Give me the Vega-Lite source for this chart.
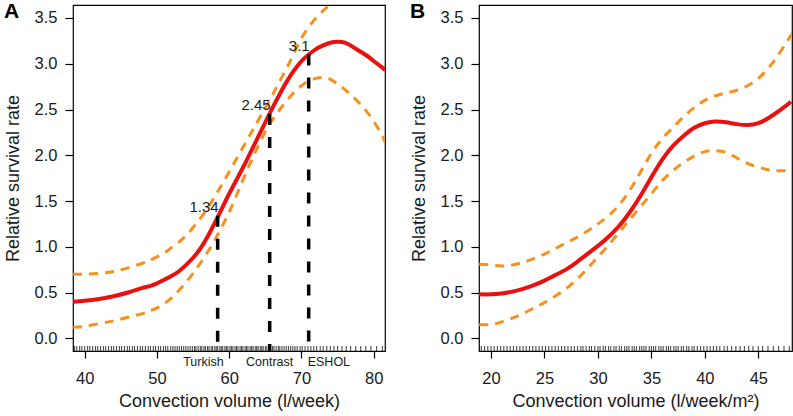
{
  "$schema": "https://vega.github.io/schema/vega-lite/v6.json",
  "padding": {"left": 3, "top": 0, "right": 3, "bottom": 0},
  "spacing": 23,
  "config": {
    "font": "Liberation Sans",
    "view": {"stroke": "black", "strokeWidth": 1.2},
    "axis": {"grid": false, "domain": false, "tickColor": "black", "tickWidth": 1.2, "labelFontSize": 16.5, "labelColor": "#1a1a1a", "titleFontSize": 18, "titleFontWeight": "normal", "titleColor": "#1a1a1a"},
    "axisX": {"tickSize": 7, "labelPadding": 12, "titlePadding": 6},
    "axisY": {"tickSize": 8, "labelPadding": 8, "titlePadding": 12},
    "title": {"fontSize": 21, "fontWeight": "bold", "anchor": "start", "frame": "bounds", "offset": -17, "baseline": "alphabetic", "color": "black"}
  },
  "datasets": {
    "curveA": [
      {"x": 38.4, "fit": 0.40, "lo": 0.12, "hi": 0.70},
      {"x": 40, "fit": 0.41, "lo": 0.13, "hi": 0.70},
      {"x": 42, "fit": 0.43, "lo": 0.16, "hi": 0.71},
      {"x": 44, "fit": 0.46, "lo": 0.19, "hi": 0.73},
      {"x": 46, "fit": 0.50, "lo": 0.23, "hi": 0.77},
      {"x": 48, "fit": 0.55, "lo": 0.27, "hi": 0.82},
      {"x": 49, "fit": 0.57, "lo": 0.30, "hi": 0.85},
      {"x": 50, "fit": 0.60, "lo": 0.33, "hi": 0.89},
      {"x": 51, "fit": 0.64, "lo": 0.38, "hi": 0.93},
      {"x": 52, "fit": 0.68, "lo": 0.44, "hi": 0.99},
      {"x": 53, "fit": 0.73, "lo": 0.52, "hi": 1.05},
      {"x": 54, "fit": 0.80, "lo": 0.61, "hi": 1.12},
      {"x": 55, "fit": 0.88, "lo": 0.71, "hi": 1.21},
      {"x": 56, "fit": 0.98, "lo": 0.82, "hi": 1.31},
      {"x": 57, "fit": 1.11, "lo": 0.94, "hi": 1.42},
      {"x": 58, "fit": 1.26, "lo": 1.07, "hi": 1.55},
      {"x": 59, "fit": 1.42, "lo": 1.22, "hi": 1.68},
      {"x": 60, "fit": 1.58, "lo": 1.38, "hi": 1.82},
      {"x": 61, "fit": 1.73, "lo": 1.56, "hi": 1.96},
      {"x": 62, "fit": 1.88, "lo": 1.75, "hi": 2.10},
      {"x": 63, "fit": 2.04, "lo": 1.93, "hi": 2.24},
      {"x": 64, "fit": 2.20, "lo": 2.10, "hi": 2.38},
      {"x": 65, "fit": 2.36, "lo": 2.26, "hi": 2.52},
      {"x": 66, "fit": 2.52, "lo": 2.39, "hi": 2.66},
      {"x": 67, "fit": 2.67, "lo": 2.50, "hi": 2.81},
      {"x": 68, "fit": 2.81, "lo": 2.60, "hi": 2.96},
      {"x": 69, "fit": 2.93, "lo": 2.69, "hi": 3.12},
      {"x": 70, "fit": 3.03, "lo": 2.76, "hi": 3.28},
      {"x": 71, "fit": 3.10, "lo": 2.81, "hi": 3.40},
      {"x": 72, "fit": 3.16, "lo": 2.84, "hi": 3.50},
      {"x": 73, "fit": 3.20, "lo": 2.85, "hi": 3.58},
      {"x": 74, "fit": 3.23, "lo": 2.83, "hi": 3.65},
      {"x": 75, "fit": 3.24, "lo": 2.78, "hi": 3.72},
      {"x": 76, "fit": 3.23, "lo": 2.72, "hi": 3.78},
      {"x": 77, "fit": 3.19, "lo": 2.65, "hi": 3.83},
      {"x": 78, "fit": 3.14, "lo": 2.57, "hi": 3.87},
      {"x": 79, "fit": 3.09, "lo": 2.48, "hi": 3.90},
      {"x": 80, "fit": 3.03, "lo": 2.37, "hi": 3.93},
      {"x": 81, "fit": 2.97, "lo": 2.24, "hi": 3.95},
      {"x": 81.6, "fit": 2.93, "lo": 2.14, "hi": 3.96}
    ],
    "curveB": [
      {"x": 18.9, "fit": 0.48, "lo": 0.15, "hi": 0.81},
      {"x": 20, "fit": 0.48, "lo": 0.15, "hi": 0.80},
      {"x": 21, "fit": 0.49, "lo": 0.18, "hi": 0.79},
      {"x": 22, "fit": 0.51, "lo": 0.22, "hi": 0.80},
      {"x": 23, "fit": 0.54, "lo": 0.27, "hi": 0.83},
      {"x": 24, "fit": 0.58, "lo": 0.33, "hi": 0.87},
      {"x": 25, "fit": 0.63, "lo": 0.39, "hi": 0.92},
      {"x": 26, "fit": 0.69, "lo": 0.46, "hi": 0.98},
      {"x": 27, "fit": 0.75, "lo": 0.54, "hi": 1.04},
      {"x": 28, "fit": 0.83, "lo": 0.64, "hi": 1.10},
      {"x": 29, "fit": 0.92, "lo": 0.76, "hi": 1.17},
      {"x": 30, "fit": 1.01, "lo": 0.89, "hi": 1.25},
      {"x": 31, "fit": 1.11, "lo": 1.02, "hi": 1.34},
      {"x": 32, "fit": 1.23, "lo": 1.16, "hi": 1.46},
      {"x": 33, "fit": 1.38, "lo": 1.30, "hi": 1.62},
      {"x": 34, "fit": 1.56, "lo": 1.44, "hi": 1.82},
      {"x": 35, "fit": 1.76, "lo": 1.58, "hi": 2.02},
      {"x": 36, "fit": 1.95, "lo": 1.72, "hi": 2.18},
      {"x": 37, "fit": 2.10, "lo": 1.83, "hi": 2.30},
      {"x": 38, "fit": 2.21, "lo": 1.92, "hi": 2.42},
      {"x": 39, "fit": 2.30, "lo": 1.99, "hi": 2.52},
      {"x": 40, "fit": 2.35, "lo": 2.04, "hi": 2.60},
      {"x": 41, "fit": 2.37, "lo": 2.05, "hi": 2.65},
      {"x": 42, "fit": 2.36, "lo": 2.03, "hi": 2.68},
      {"x": 43, "fit": 2.34, "lo": 1.97, "hi": 2.71},
      {"x": 44, "fit": 2.33, "lo": 1.91, "hi": 2.76},
      {"x": 45, "fit": 2.35, "lo": 1.87, "hi": 2.84},
      {"x": 46, "fit": 2.41, "lo": 1.84, "hi": 2.96},
      {"x": 47, "fit": 2.49, "lo": 1.83, "hi": 3.12},
      {"x": 48, "fit": 2.58, "lo": 1.83, "hi": 3.30},
      {"x": 48.15, "fit": 2.60, "lo": 1.83, "hi": 3.33}
    ],
    "marksA": [
      {"x": 58.4, "y": 1.34, "name": "Turkish"},
      {"x": 65.6, "y": 2.45, "name": "Contrast"},
      {"x": 71.0, "y": 3.1, "name": "ESHOL"}
    ],
    "rugA": [
      {"x": 38.6}, {"x": 38.9}, {"x": 39.3}, {"x": 39.6}, {"x": 40.0}, {"x": 40.4}, {"x": 40.7}, {"x": 41.1}, {"x": 41.5}, {"x": 41.8},
      {"x": 42.2}, {"x": 42.6}, {"x": 42.9}, {"x": 43.3}, {"x": 43.7}, {"x": 44.0}, {"x": 44.4}, {"x": 44.8}, {"x": 45.1}, {"x": 45.5},
      {"x": 45.9}, {"x": 46.2}, {"x": 46.6}, {"x": 46.9}, {"x": 47.3}, {"x": 47.7}, {"x": 48.0}, {"x": 48.4}, {"x": 48.8}, {"x": 49.1},
      {"x": 49.5}, {"x": 49.8}, {"x": 50.2}, {"x": 50.5}, {"x": 50.9}, {"x": 51.2}, {"x": 51.5}, {"x": 51.9}, {"x": 52.2}, {"x": 52.5},
      {"x": 52.8}, {"x": 53.1}, {"x": 53.4}, {"x": 53.7}, {"x": 54.0}, {"x": 54.3}, {"x": 54.6}, {"x": 54.9}, {"x": 55.2}, {"x": 55.4},
      {"x": 55.7}, {"x": 56.0}, {"x": 56.2}, {"x": 56.5}, {"x": 56.7}, {"x": 57.0}, {"x": 57.2}, {"x": 57.5}, {"x": 57.7}, {"x": 58.0},
      {"x": 58.2}, {"x": 58.4}, {"x": 58.7}, {"x": 58.9}, {"x": 59.1}, {"x": 59.4}, {"x": 59.6}, {"x": 59.8}, {"x": 60.1}, {"x": 60.3},
      {"x": 60.5}, {"x": 60.8}, {"x": 61.0}, {"x": 61.2}, {"x": 61.5}, {"x": 61.7}, {"x": 61.9}, {"x": 62.2}, {"x": 62.4}, {"x": 62.6},
      {"x": 62.9}, {"x": 63.1}, {"x": 63.3}, {"x": 63.6}, {"x": 63.8}, {"x": 64.0}, {"x": 64.3}, {"x": 64.5}, {"x": 64.7}, {"x": 65.0},
      {"x": 65.2}, {"x": 65.5}, {"x": 65.7}, {"x": 66.0}, {"x": 66.2}, {"x": 66.5}, {"x": 66.8}, {"x": 67.0}, {"x": 67.3}, {"x": 67.6},
      {"x": 67.9}, {"x": 68.2}, {"x": 68.5}, {"x": 68.8}, {"x": 69.1}, {"x": 69.4}, {"x": 69.8}, {"x": 70.1}, {"x": 70.5}, {"x": 70.9},
      {"x": 71.3}, {"x": 71.7}, {"x": 72.1}, {"x": 72.6}, {"x": 73.0}, {"x": 73.5}, {"x": 74.0}, {"x": 74.5}, {"x": 75.0}, {"x": 75.6},
      {"x": 76.2}, {"x": 76.8}, {"x": 77.5}, {"x": 78.2}, {"x": 78.9}, {"x": 79.6}, {"x": 80.4}, {"x": 81.2}
    ],
    "rugB": [
      {"x": 19.1}, {"x": 19.4}, {"x": 19.7}, {"x": 20.0}, {"x": 20.3}, {"x": 20.6}, {"x": 20.9}, {"x": 21.2}, {"x": 21.5}, {"x": 21.8},
      {"x": 22.1}, {"x": 22.4}, {"x": 22.7}, {"x": 23.0}, {"x": 23.3}, {"x": 23.6}, {"x": 23.9}, {"x": 24.2}, {"x": 24.5}, {"x": 24.8},
      {"x": 25.1}, {"x": 25.4}, {"x": 25.7}, {"x": 26.0}, {"x": 26.3}, {"x": 26.6}, {"x": 26.9}, {"x": 27.2}, {"x": 27.5}, {"x": 27.8},
      {"x": 28.1}, {"x": 28.4}, {"x": 28.6}, {"x": 28.9}, {"x": 29.2}, {"x": 29.4}, {"x": 29.7}, {"x": 30.0}, {"x": 30.2}, {"x": 30.5},
      {"x": 30.7}, {"x": 31.0}, {"x": 31.2}, {"x": 31.5}, {"x": 31.7}, {"x": 32.0}, {"x": 32.2}, {"x": 32.5}, {"x": 32.7}, {"x": 32.9},
      {"x": 33.2}, {"x": 33.4}, {"x": 33.6}, {"x": 33.9}, {"x": 34.1}, {"x": 34.3}, {"x": 34.5}, {"x": 34.8}, {"x": 35.0}, {"x": 35.2},
      {"x": 35.4}, {"x": 35.7}, {"x": 35.9}, {"x": 36.1}, {"x": 36.4}, {"x": 36.6}, {"x": 36.8}, {"x": 37.1}, {"x": 37.3}, {"x": 37.5},
      {"x": 37.8}, {"x": 38.0}, {"x": 38.3}, {"x": 38.5}, {"x": 38.8}, {"x": 39.0}, {"x": 39.3}, {"x": 39.6}, {"x": 39.9}, {"x": 40.2},
      {"x": 40.5}, {"x": 40.8}, {"x": 41.1}, {"x": 41.4}, {"x": 41.8}, {"x": 42.1}, {"x": 42.5}, {"x": 42.9}, {"x": 43.3}, {"x": 43.7},
      {"x": 44.1}, {"x": 44.5}, {"x": 45.0}, {"x": 45.4}, {"x": 45.9}, {"x": 46.4}, {"x": 46.9}, {"x": 47.4}, {"x": 47.9}
    ]
  },
  "hconcat": [
    {
      "width": 312,
      "height": 346,
      "title": {"text": "A"},
      "layer": [
        {
          "data": {"name": "curveA"},
          "transform": [{"fold": ["lo", "hi"], "as": ["s", "y"]}],
          "mark": {"type": "line", "color": "#F5921F", "strokeWidth": 3, "strokeDash": [9, 7], "interpolate": "natural", "clip": true},
          "encoding": {
            "x": {"field": "x", "type": "quantitative", "scale": {"domain": [38.38, 81.56], "nice": false, "zero": false}, "axis": {"values": [40, 50, 60, 70, 80], "title": "Convection volume (l/week)"}},
            "y": {"field": "y", "type": "quantitative", "scale": {"domain": [-0.139, 3.642], "nice": false, "zero": false}, "axis": {"values": [0, 0.5, 1, 1.5, 2, 2.5, 3, 3.5], "format": ".1f", "title": "Relative survival rate"}},
            "detail": {"field": "s"}
          }
        },
        {
          "data": {"name": "rugA"},
          "mark": {"type": "rule", "color": "#111", "opacity": 0.75, "strokeWidth": 1.1},
          "encoding": {
            "x": {"field": "x", "type": "quantitative"},
            "y": {"datum": -0.139, "type": "quantitative"},
            "y2": {"datum": -0.085}
          }
        },
        {
          "data": {"name": "curveA"},
          "transform": [{"fold": ["fit"], "as": ["s", "y"]}],
          "mark": {"type": "line", "color": "#E8110F", "strokeWidth": 4, "interpolate": "natural", "clip": true},
          "encoding": {
            "x": {"field": "x", "type": "quantitative"},
            "y": {"field": "y", "type": "quantitative"}
          }
        },
        {
          "data": {"name": "marksA"},
          "mark": {"type": "rule", "color": "black", "strokeWidth": 3.5, "strokeDash": [11, 12]},
          "encoding": {
            "x": {"field": "x", "type": "quantitative"},
            "y": {"field": "y", "type": "quantitative"},
            "y2": {"datum": -0.139}
          }
        },
        {
          "data": {"name": "marksA"},
          "mark": {"type": "text", "align": "right", "baseline": "alphabetic", "dy": -4, "dx": 1, "fontSize": 15, "color": "#1a1a1a"},
          "encoding": {
            "x": {"field": "x", "type": "quantitative"},
            "y": {"field": "y", "type": "quantitative"},
            "text": {"field": "y"}
          }
        },
        {
          "data": {"name": "marksA"},
          "transform": [{"filter": "datum.name === 'Turkish'"}],
          "mark": {"type": "text", "align": "right", "baseline": "middle", "dx": 6, "dy": 11, "fontSize": 12.5, "color": "#1a1a1a"},
          "encoding": {
            "x": {"field": "x", "type": "quantitative"},
            "y": {"datum": -0.139, "type": "quantitative"},
            "text": {"field": "name"}
          }
        },
        {
          "data": {"name": "marksA"},
          "transform": [{"filter": "datum.name === 'Contrast'"}],
          "mark": {"type": "text", "align": "center", "baseline": "middle", "dy": 11, "fontSize": 12.5, "color": "#1a1a1a"},
          "encoding": {
            "x": {"field": "x", "type": "quantitative"},
            "y": {"datum": -0.139, "type": "quantitative"},
            "text": {"field": "name"}
          }
        },
        {
          "data": {"name": "marksA"},
          "transform": [{"filter": "datum.name === 'ESHOL'"}],
          "mark": {"type": "text", "align": "left", "baseline": "middle", "dx": -1, "dy": 11, "fontSize": 12.5, "color": "#1a1a1a"},
          "encoding": {
            "x": {"field": "x", "type": "quantitative"},
            "y": {"datum": -0.139, "type": "quantitative"},
            "text": {"field": "name"}
          }
        }
      ]
    },
    {
      "width": 313,
      "height": 346,
      "title": {"text": "B"},
      "layer": [
        {
          "data": {"name": "curveB"},
          "transform": [{"fold": ["lo", "hi"], "as": ["s", "y"]}],
          "mark": {"type": "line", "color": "#F5921F", "strokeWidth": 3, "strokeDash": [9, 7], "interpolate": "natural", "clip": true},
          "encoding": {
            "x": {"field": "x", "type": "quantitative", "scale": {"domain": [18.88, 48.15], "nice": false, "zero": false}, "axis": {"values": [20, 25, 30, 35, 40, 45], "title": "Convection volume (l/week/m²)"}},
            "y": {"field": "y", "type": "quantitative", "scale": {"domain": [-0.139, 3.642], "nice": false, "zero": false}, "axis": {"values": [0, 0.5, 1, 1.5, 2, 2.5, 3, 3.5], "format": ".1f", "title": "Relative survival rate"}},
            "detail": {"field": "s"}
          }
        },
        {
          "data": {"name": "rugB"},
          "mark": {"type": "rule", "color": "#111", "opacity": 0.75, "strokeWidth": 1.1},
          "encoding": {
            "x": {"field": "x", "type": "quantitative"},
            "y": {"datum": -0.139, "type": "quantitative"},
            "y2": {"datum": -0.085}
          }
        },
        {
          "data": {"name": "curveB"},
          "transform": [{"fold": ["fit"], "as": ["s", "y"]}],
          "mark": {"type": "line", "color": "#E8110F", "strokeWidth": 4, "interpolate": "natural", "clip": true},
          "encoding": {
            "x": {"field": "x", "type": "quantitative"},
            "y": {"field": "y", "type": "quantitative"}
          }
        }
      ]
    }
  ]
}
